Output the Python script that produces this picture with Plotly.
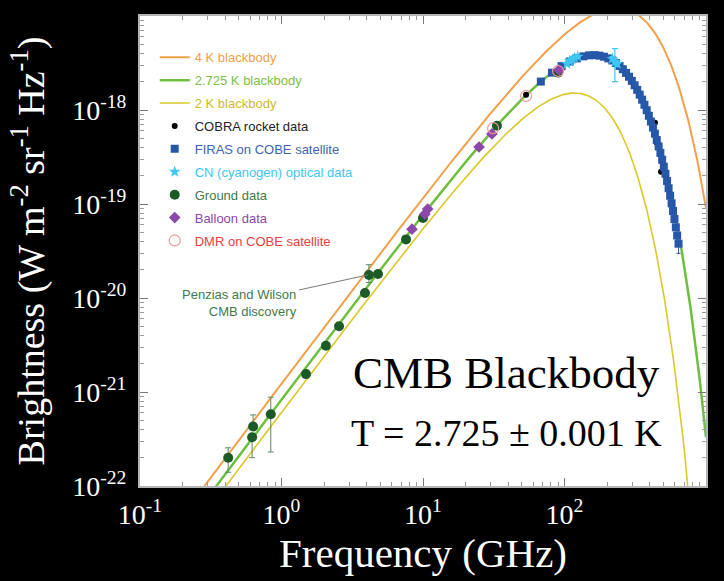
import numpy as np
import plotly.graph_objects as go

# ---------------- data ----------------
# blackbody temperatures (K)
bb_temps = [4.0, 2.725, 2.0]
bb_names = ["4 K blackbody", "2.725 K blackbody", "2 K blackbody"]
curve_freq_ghz = np.logspace(-1, 3, 500)

# COBRA rocket data (GHz, W m^-2 sr^-1 Hz^-1)
cobra_freq = [53.5, 436, 447, 481]
cobra_b = [1.45e-18, 7.3e-19, 4.5e-19, 2.2e-19]

# FIRAS on COBE (GHz, MJy/sr)
firas_freq = [68.05, 81.54, 95.33, 108.82, 122.32, 136.10, 149.60, 163.39, 176.88,
              190.37, 204.16, 217.65, 231.14, 244.93, 258.42, 272.21, 285.70, 299.19,
              312.98, 326.47, 339.96, 353.75, 367.25, 381.04, 394.53, 408.02, 421.81,
              435.30, 448.79, 462.58, 476.07, 489.86, 503.35, 516.84, 530.63, 544.12,
              557.91, 571.40, 584.89, 598.68, 612.17, 625.67, 639.45]
firas_mjy = [200.723, 249.508, 293.024, 327.770, 354.081, 372.079, 381.493, 383.478,
             378.901, 368.833, 354.063, 336.278, 316.076, 293.924, 271.432, 248.239,
             225.940, 204.327, 183.262, 163.830, 145.750, 128.835, 113.568, 99.451,
             86.761, 75.355, 65.130, 56.037, 47.993, 40.997, 34.964, 29.562, 24.923,
             20.980, 17.593, 14.727, 12.247, 10.160, 8.431, 6.919, 5.657, 4.623, 3.780]
firas_err_mjy = [0] * 41 + [0.4, 0.8]

# CN (cyanogen) optical data
cn_freq = [104, 109, 113.6, 118, 124, 218, 227, 236]
cn_b = [3.1e-18, 3.3e-18, 3.45e-18, 3.6e-18, 3.7e-18, 3.5e-18, 3.25e-18, 3.1e-18]
cn_err = [0.1e-18, 0.1e-18, 0.15e-18, 0.1e-18, 0.1e-18, 0.2e-18, 1.25e-18, 0.2e-18]

# Ground data
ground_freq = [0.42, 0.63, 0.62, 0.84, 1.49, 2.06, 2.55, 3.89, 4.15, 4.81, 7.59, 10.0, 33.3, 90]
ground_b = [2.0e-22, 4.3e-22, 3.3e-22, 5.8e-22, 1.55e-21, 3.1e-21, 5.0e-21, 1.13e-20,
            1.76e-20, 1.8e-20, 4.2e-20, 7.1e-20, 6.8e-19, 2.5e-18]
ground_err_plus = [0.55e-22, 1.4e-22, 0, 3.0e-22, 0, 0, 0, 0, 0.5e-20, 0, 0, 0, 0, 0]
ground_err_minus = [0.6e-22, 0, 1.3e-22, 3.5e-22, 0, 0, 0, 0, 0.3e-20, 0, 0, 0, 0, 0]

# Balloon data
balloon_freq = [8.36, 10.3, 10.8, 24.9, 30.7, 91.4]
balloon_b = [5.4e-20, 7.8e-20, 8.85e-20, 4.04e-19, 5.56e-19, 2.67e-18]

# DMR on COBE
dmr_freq = [31.3, 53.5, 90]
dmr_b = [6.4e-19, 1.41e-18, 2.6e-18]

x_tick_vals = [0.1, 1, 10, 100, 1000]
x_tick_text = ["10<sup>-1</sup>", "10<sup>0</sup>", "10<sup>1</sup>", "10<sup>2</sup>", "10<sup>3</sup>"]
y_tick_vals = [1e-22, 1e-21, 1e-20, 1e-19, 1e-18, 1e-17]
y_tick_text = ["10<sup>-22</sup>", "10<sup>-21</sup>", "10<sup>-20</sup>",
               "10<sup>-19</sup>", "10<sup>-18</sup>", "10<sup>-17</sup>"]
minor_mult = [2, 3, 4, 5, 6, 7, 8, 9]
x_minor_vals = [m * 10.0 ** e for e in range(-1, 3) for m in minor_mult]
y_minor_vals = [m * 10.0 ** e for e in range(-22, -17) for m in minor_mult]

# ---------------- physics ----------------
h = 6.62607e-34
k = 1.380649e-23
c = 2.99792458e8


def planck(freq_ghz, T):
    nu = np.asarray(freq_ghz) * 1e9
    return 2 * h * nu ** 3 / c ** 2 / np.expm1(h * nu / (k * T))


# ---------------- styling ----------------
curve_colors = ["#f4a04a", "#6fbf3e", "#dcc82a"]
curve_text = ["#f4a04a", "#7cc046", "#cdbb2a"]
curve_widths = [2, 2.5, 1.6]
SERIF = "Liberation Serif, Times New Roman, serif"
SANS = "Liberation Sans, Arial, sans-serif"


def lname(text, color):
    return f"<span style='color:{color}'>{text}</span>"


fig = go.Figure()

for i, T in enumerate(bb_temps):
    fig.add_trace(go.Scatter(
        x=curve_freq_ghz, y=planck(curve_freq_ghz, T), mode="lines",
        line=dict(color=curve_colors[i], width=curve_widths[i]),
        name=lname(bb_names[i], curve_text[i]), legendgroup=f"g{i}"))

fig.add_trace(go.Scatter(
    x=cobra_freq, y=cobra_b, mode="markers",
    marker=dict(color="black", size=6, symbol="circle"),
    name=lname("COBRA rocket data", "#222222"), legendgroup="g3"))

fig.add_trace(go.Scatter(
    x=firas_freq, y=[v * 1e-20 for v in firas_mjy], mode="markers",
    marker=dict(color="#2657a8", size=8, symbol="square"),
    error_y=dict(type="data", array=[v * 1e-20 for v in firas_err_mjy],
                 color="#2657a8", thickness=1, width=2),
    name=lname("FIRAS on COBE satellite", "#3a66b0"), legendgroup="g4"))

fig.add_trace(go.Scatter(
    x=cn_freq, y=cn_b, mode="markers",
    marker=dict(color="#3fc6f2", size=9, symbol="star"),
    error_y=dict(type="data", array=cn_err, color="#3fc6f2", thickness=1.2, width=3),
    name=lname("CN (cyanogen) optical data", "#3fc6f2"), legendgroup="g5"))

fig.add_trace(go.Scatter(
    x=ground_freq, y=ground_b, mode="markers",
    marker=dict(color="#1c5a28", size=10, symbol="circle"),
    error_y=dict(type="data", symmetric=False, array=ground_err_plus,
                 arrayminus=ground_err_minus, color="#5a8a60", thickness=1, width=3),
    name=lname("Ground data", "#3f7a4c"), legendgroup="g6"))

fig.add_trace(go.Scatter(
    x=balloon_freq, y=balloon_b, mode="markers",
    marker=dict(color="#8c48aa", size=9, symbol="diamond"),
    name=lname("Balloon data", "#8c48aa"), legendgroup="g7"))

fig.add_trace(go.Scatter(
    x=dmr_freq, y=dmr_b, mode="markers",
    marker=dict(color="#ee9a9a", size=11, symbol="circle-open",
                line=dict(color="#ee9a9a", width=1.2)),
    name=lname("DMR on COBE satellite", "#e8413c"), legendgroup="g8"))

axis_common = dict(
    type="log", showgrid=False, zeroline=False,
    showline=True, linecolor="#b5b5b5", linewidth=2, mirror="allticks",
    ticks="inside", ticklen=8, tickcolor="#7a7a7a", tickwidth=1,
    tickfont=dict(family=SERIF, size=28, color="white"),
    tickmode="array",
    minor=dict(ticks="inside", ticklen=4, tickcolor="#9a9a9a", tickwidth=1,
               tickmode="array", showgrid=False),
)

fig.update_layout(
    width=724, height=581,
    paper_bgcolor="black", plot_bgcolor="white",
    margin=dict(l=140, r=18, t=16, b=95),
    showlegend=True,
    legend=dict(x=0.026, y=0.944, xanchor="left", yanchor="top",
                bgcolor="rgba(0,0,0,0)", font=dict(family=SANS, size=13),
                tracegroupgap=3),
    xaxis=dict(axis_common, range=[-1, 3], tickvals=x_tick_vals, ticktext=x_tick_text,
               ticklabelstandoff=2,
               title=dict(text="Frequency (GHz)", font=dict(family=SERIF, size=41, color="white"),
                          standoff=4)),
    yaxis=dict(axis_common, range=[-22, -17], tickvals=y_tick_vals, ticktext=y_tick_text,
               ticklabelstandoff=6,
               title=dict(text="Brightness (W m<sup>-2</sup> sr<sup>-1</sup> Hz<sup>-1</sup>)",
                          font=dict(family=SERIF, size=38, color="white"), standoff=16)),
)
fig.update_xaxes(minor_tickvals=x_minor_vals)
fig.update_yaxes(minor_tickvals=y_minor_vals)

fig.add_annotation(x=np.log10(4.08), y=np.log10(1.76e-20), xref="x", yref="y",
                   text="Penzias and Wilson<br>CMB discovery", align="right",
                   showarrow=True, arrowhead=0, arrowwidth=1, arrowcolor="#7a7a7a",
                   ax=-128, ay=28, font=dict(family=SANS, size=13, color="#3f7a4c"))

fig.add_annotation(x=0.648, y=0.182, xref="paper", yref="paper", showarrow=False,
                   text="CMB Blackbody", font=dict(family=SERIF, size=45, color="black"))
fig.add_annotation(x=0.648, y=0.064, xref="paper", yref="paper", showarrow=False,
                   text="T = 2.725 ± 0.001 K", font=dict(family=SERIF, size=38, color="black"))

fig.write_html("out.html")
